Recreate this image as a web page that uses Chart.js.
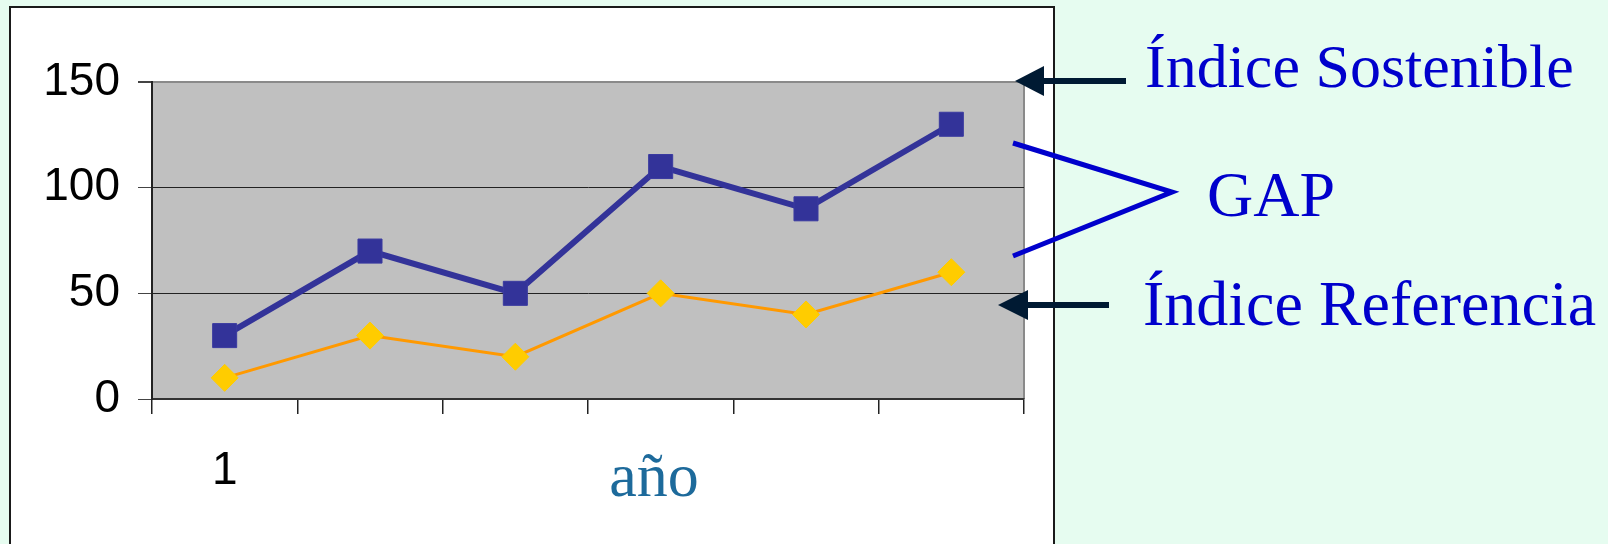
<!DOCTYPE html>
<html>
<head>
<meta charset="utf-8">
<script src="https://cdn.jsdelivr.net/npm/chart.js@4"></script>
<style>
    html, body { margin: 0; padding: 0; background: #e6fcf0; }
    #wrap { position: absolute; left: 0; top: 0; width: 1608px; height: 544px; }
</style>
</head>
<body>
<div id="wrap"><canvas id="gap-chart" width="1608" height="544"></canvas></div>
<script>
// Chart data
const categories = ['1', '2', '3', '4', '5', '6'];
const indiceSostenible = [30, 70, 50, 110, 90, 130];
const indiceReferencia = [10, 30, 20, 50, 40, 60];
const yTicks = [0, 50, 100, 150];

const serif = '"Liberation Serif", "Times New Roman", serif';
const sans = '"Liberation Sans", Arial, sans-serif';

// White panel + grey plot area behind the chart
const backgroundPlugin = {
    id: 'background',
    beforeDraw(chart) {
        const c = chart.ctx;
        const a = chart.chartArea;
        c.save();
        c.fillStyle = '#e6fcf0';
        c.fillRect(0, 0, chart.width, chart.height);
        c.fillStyle = '#ffffff';
        c.fillRect(10, 7, 1044, 560);
        c.strokeStyle = '#1a1a1a';
        c.lineWidth = 2;
        c.strokeRect(10, 7, 1044, 560);
        c.fillStyle = '#c0c0c0';
        c.fillRect(a.left, a.top, a.right - a.left, a.bottom - a.top);
        c.strokeStyle = '#8a8a8a';
        c.lineWidth = 2;
        c.beginPath();
        c.moveTo(a.right, a.top);
        c.lineTo(a.right, a.bottom);
        c.stroke();
        c.restore();
    }
};

function arrow(c, tipX, y, baseX, endX) {
    c.fillStyle = '#001a33';
    c.strokeStyle = '#001a33';
    c.lineWidth = 6;
    c.beginPath();
    c.moveTo(baseX - 2, y);
    c.lineTo(endX, y);
    c.stroke();
    c.beginPath();
    c.moveTo(tipX, y);
    c.lineTo(baseX, y - 15);
    c.lineTo(baseX, y + 15);
    c.closePath();
    c.fill();
}

// Annotations on the right and the axis title
const annotationPlugin = {
    id: 'annotations',
    afterDraw(chart) {
        const c = chart.ctx;
        const y = chart.scales.y;
        c.save();
        arrow(c, 1015, y.getPixelForValue(150) - 1, 1044, 1126);
        arrow(c, 998, 305, 1028, 1109);

        c.strokeStyle = '#0000cc';
        c.lineWidth = 5;
        c.beginPath();
        c.moveTo(1013, 143);
        c.lineTo(1172, 192);
        c.lineTo(1013, 256);
        c.stroke();

        c.fillStyle = '#0000cc';
        c.textBaseline = 'alphabetic';
        c.textAlign = 'left';
        c.font = '62px ' + serif;
        c.fillText('Índice Sostenible', 1145, 87);
        c.font = '64px ' + serif;
        c.fillText('GAP', 1207, 216);
        c.fillText('Índice Referencia', 1143, 325);

        c.fillStyle = '#1d6a9b';
        c.font = '62px ' + serif;
        c.textAlign = 'center';
        c.fillText('año', 654, 496);
        c.restore();
    }
};

new Chart(document.getElementById('gap-chart'), {
    type: 'line',
    data: {
        labels: categories,
        datasets: [{
            label: 'Índice Sostenible',
            data: indiceSostenible,
            borderColor: '#333399',
            backgroundColor: '#333399',
            borderWidth: 6,
            pointStyle: 'rect',
            pointRadius: 17,
            pointBorderWidth: 1,
            pointBorderColor: '#3a3aa0',
            tension: 0
        }, {
            label: 'Índice Referencia',
            data: indiceReferencia,
            borderColor: '#ff9900',
            backgroundColor: '#ffcc00',
            borderWidth: 3,
            pointStyle: 'rectRot',
            pointRadius: 13.5,
            pointBorderWidth: 1,
            pointBorderColor: '#ffcc00',
            tension: 0
        }]
    },
    options: {
        responsive: false,
        devicePixelRatio: 1,
        animation: false,
        layout: {
            padding: { top: 82, right: 584, left: 0, bottom: 0 }
        },
        plugins: {
            legend: { display: false },
            tooltip: { enabled: false }
        },
        scales: {
            x: {
                offset: true,
                afterFit: function(scale) { scale.height = 145; },
                grid: {
                    offset: true,
                    drawOnChartArea: false,
                    tickLength: 15,
                    tickColor: '#222',
                    lineWidth: 1.5
                },
                border: { color: '#333', width: 2 },
                ticks: {
                    autoSkip: false,
                    maxRotation: 0,
                    padding: 30,
                    color: '#000',
                    font: { family: sans, size: 46 },
                    callback: function(value, index) {
                        return index === 0 ? categories[index] : '';
                    }
                }
            },
            y: {
                min: yTicks[0],
                max: yTicks[yTicks.length - 1],
                afterFit: function(scale) { scale.width = 152; },
                afterBuildTicks: function(scale) {
                    scale.ticks = yTicks.map(v => ({ value: v }));
                },
                grid: {
                    color: function(ctx) {
                        return ctx.tick && ctx.tick.value === 150 ? '#8a8a8a' : '#222';
                    },
                    lineWidth: function(ctx) {
                        return ctx.tick && ctx.tick.value === 150 ? 2 : 1;
                    },
                    tickLength: 14,
                    tickColor: '#444'
                },
                border: { color: '#222', width: 2 },
                ticks: {
                    padding: 18,
                    color: '#000',
                    font: { family: sans, size: 46 }
                }
            }
        }
    },
    plugins: [backgroundPlugin, annotationPlugin]
});
</script>
</body>
</html>
